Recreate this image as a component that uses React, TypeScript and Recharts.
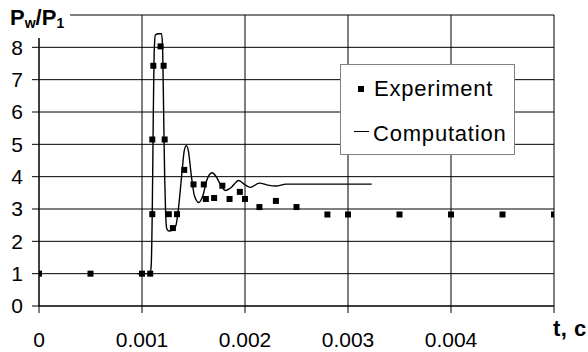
import React from 'react';
import { ComposedChart, Line, Scatter, XAxis, YAxis, CartesianGrid, Legend } from 'recharts';

// Experiment (squares)
const expT = [0, 0.0005, 0.001, 0.00108, 0.0011, 0.0011, 0.00111, 0.00118, 0.00121, 0.00122, 0.00126, 0.0013, 0.00134, 0.00141, 0.0015, 0.0016, 0.00162, 0.0017, 0.00178, 0.00185, 0.00195, 0.002, 0.00214, 0.0023, 0.0025, 0.0028, 0.003, 0.0035, 0.004, 0.0045, 0.005];
const expV = [1, 1, 1, 1, 2.84, 5.15, 7.43, 8.03, 7.43, 5.15, 2.84, 2.41, 2.84, 4.21, 3.76, 3.76, 3.31, 3.34, 3.72, 3.31, 3.53, 3.31, 3.06, 3.25, 3.06, 2.83, 2.83, 2.83, 2.83, 2.83, 2.83];

// Computation (line)
const compT = [0.00095, 0.00108, 0.00109, 0.0011, 0.00111, 0.00112, 0.00113, 0.00116, 0.00119, 0.0012, 0.00121, 0.00122, 0.00123, 0.00124, 0.00126, 0.0013, 0.00133, 0.00136, 0.00139, 0.00141, 0.00143, 0.00145, 0.00148, 0.00151, 0.00155, 0.00159, 0.00163, 0.00168, 0.00173, 0.00177, 0.00181, 0.00186, 0.00194, 0.002, 0.00205, 0.00214, 0.00222, 0.0023, 0.0024, 0.00323];
const compV = [1, 1, 1.3, 3, 6, 8, 8.38, 8.42, 8.42, 8, 6, 4, 2.8, 2.4, 2.32, 2.35, 2.5, 3.2, 4.2, 4.8, 4.96, 4.8, 4.0, 3.4, 3.2, 3.4, 3.9, 4.12, 3.95, 3.7, 3.57, 3.65, 3.88, 3.75, 3.67, 3.8, 3.74, 3.71, 3.77, 3.77];

const xTicks = [0, 0.001, 0.002, 0.003, 0.004, 0.005];
const yTicks = [0, 1, 2, 3, 4, 5, 6, 7, 8, 9];

const expData = expT.map((t, i) => ({ t, v: expV[i] }));
const compData = compT.map((t, i) => ({ t, v: compV[i] }));

const FONT = '"Liberation Sans", Arial, sans-serif';

const Square = (props: any) => {
  const { cx, cy } = props;
  if (cx == null || cy == null) return null;
  return <rect x={cx - 3} y={cy - 3} width={6} height={6} fill="#000" />;
};

const LegendBox = () => (
  <div
    style={{
      position: 'relative',
      width: 173,
      height: 89,
      background: '#fff',
      border: '1px solid #808080',
      fontFamily: FONT,
      fontSize: 22,
      color: '#000',
      letterSpacing: 0.8,
    }}
  >
    <div style={{ position: 'absolute', left: 17, top: 21, width: 6, height: 6, background: '#000' }} />
    <div style={{ position: 'absolute', left: 33, top: 13, lineHeight: '22px', whiteSpace: 'nowrap' }}>Experiment</div>
    <div style={{ position: 'absolute', left: 13, top: 66, width: 15, height: 1, background: '#000' }} />
    <div style={{ position: 'absolute', left: 32, top: 58, lineHeight: '22px', whiteSpace: 'nowrap' }}>Computation</div>
  </div>
);

export default function App() {
  return (
    <div style={{ position: 'absolute', left: 0, top: 0, width: 588, height: 352, background: '#fff' }}>
      <ComposedChart
        width={588}
        height={352}
        margin={{ top: 15, right: 34, left: 0, bottom: 16 }}
      >
        <CartesianGrid stroke="#000" strokeWidth={1} />
        <XAxis
          type="number"
          dataKey="t"
          domain={[0, 0.005]}
          ticks={xTicks}
          tickFormatter={(v: number) => (v === 0.005 ? '' : String(v))}
          axisLine={{ stroke: '#000' }}
          tickLine={{ stroke: '#000' }}
          tickSize={7}
          tickMargin={19}
          height={30}
          interval={0}
          tick={{ fill: '#000', fontSize: 21, fontFamily: FONT }}
          allowDataOverflow
        />
        <YAxis
          type="number"
          dataKey="v"
          domain={[0, 9]}
          ticks={yTicks}
          tickFormatter={(v: number) => (v === 9 ? '' : String(v))}
          axisLine={{ stroke: '#000' }}
          tickLine={{ stroke: '#000' }}
          tickSize={7}
          tickMargin={9}
          width={39}
          interval={0}
          tick={{ fill: '#000', fontSize: 21, fontFamily: FONT }}
          allowDataOverflow
        />
        <Line
          data={compData}
          dataKey="v"
          type="monotone"
          stroke="#000"
          strokeWidth={1.4}
          dot={false}
          activeDot={false}
          isAnimationActive={false}
          name="Computation"
        />
        <Scatter
          data={expData}
          dataKey="v"
          shape={Square}
          isAnimationActive={false}
          name="Experiment"
        />
        <Legend
          layout="vertical"
          align="center"
          verticalAlign="middle"
          content={() => <LegendBox />}
          wrapperStyle={{ position: 'absolute', left: 340, top: 64, width: 175, height: 91 }}
        />
      </ComposedChart>
      <div style={{ position: 'absolute', left: 0, top: 0, width: 70, height: 38, background: '#fff' }}>
        <div style={{ position: 'absolute', left: 10, top: 7, fontFamily: FONT, fontWeight: 'bold', fontSize: 22, lineHeight: '22px', whiteSpace: 'nowrap', color: '#000' }}>
          P<span style={{ fontSize: 14, position: 'relative', top: 3 }}>w</span>/P<span style={{ fontSize: 14, position: 'relative', top: 3 }}>1</span>
        </div>
      </div>
      <div style={{ position: 'absolute', left: 553, top: 318, fontFamily: FONT, fontWeight: 'bold', fontSize: 22, lineHeight: '22px', letterSpacing: 0.5, whiteSpace: 'nowrap', color: '#000' }}>
        t, c
      </div>
    </div>
  );
}
